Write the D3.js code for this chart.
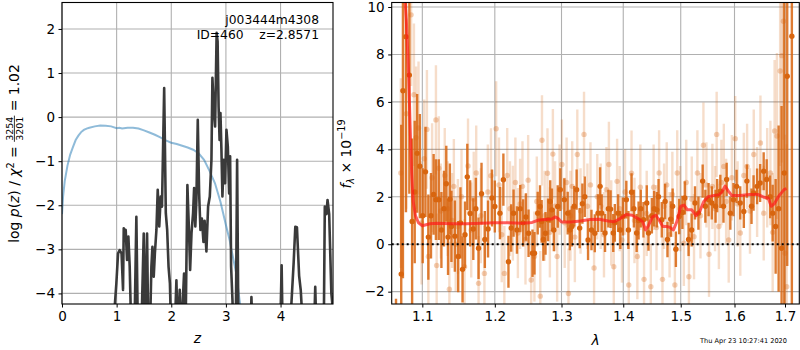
<!DOCTYPE html>
<html><head><meta charset="utf-8">
<script src="https://cdn.jsdelivr.net/npm/d3@7"></script>
<style>
body{margin:0;background:#fff;}
svg text{font-family:"DejaVu Sans",sans-serif;white-space:pre;}
</style></head><body>
<svg id="c" width="800" height="350"></svg>
<script>
// ---------------- data ----------------
const zTicks = [0,1,2,3,4];
const logpTicks = [-4,-3,-2,-1,0,1,2];
const lamTicks = [1.1,1.2,1.3,1.4,1.5,1.6,1.7];
const fluxTicks = [-2,0,2,4,6,8,10];

// chi2 curve (blue)
const chiZ = [0,0.02,0.05,0.10,0.15,0.20,0.25,0.30,0.35,0.40,0.45,0.50,0.60,0.70,0.80,0.90,1.00,1.05,1.10,1.20,1.30,1.40,1.50,1.60,1.70,1.80,1.90,2.00,2.10,2.20,2.30,2.40,2.50,2.60,2.70,2.80,2.90,3.00,3.07,3.10,3.19,3.25,3.30];
const chiV = [-2.2,-1.8,-1.45,-1.1,-0.85,-0.68,-0.52,-0.42,-0.34,-0.29,-0.26,-0.24,-0.21,-0.19,-0.195,-0.21,-0.25,-0.24,-0.26,-0.24,-0.24,-0.26,-0.30,-0.35,-0.40,-0.46,-0.53,-0.58,-0.61,-0.65,-0.69,-0.74,-0.82,-0.97,-1.22,-1.5,-1.92,-2.45,-2.8,-3.0,-3.55,-4.15,-4.6];

// log p(z) (dark)
const pzZ = [0.00,0.94,0.965,0.995,1.026,1.056,1.09,1.117,1.13,1.15,1.166,1.19,1.215,1.239,1.27,1.30,1.33,1.361,1.39,1.45,1.496,1.52,1.557,1.58,1.62,1.636,1.655,1.679,1.70,1.728,1.752,1.78,1.807,1.83,1.87,1.90,1.925,1.95,1.975,2.00,2.06,2.094,2.12,2.155,2.18,2.234,2.26,2.295,2.326,2.345,2.37,2.399,2.418,2.44,2.46,2.485,2.51,2.534,2.56,2.589,2.61,2.643,2.674,2.705,2.735,2.753,2.778,2.802,2.83,2.848,2.866,2.884,2.90,2.918,2.936,2.96,2.985,3.01,3.035,3.059,3.077,3.095,3.12,3.14,3.18,3.205,3.23,3.30,3.45,3.467,3.49,3.98,4.00,4.02,4.04,4.16,4.20,4.24,4.27,4.30,4.34,4.37,4.40,4.43,4.61,4.635,4.66,4.79,4.81,4.84,4.86,4.89,4.93,4.96];
const pzV = [-8,-8,-4.3,-3.77,-3.09,-3.02,-3.09,-3.92,-2.52,-2.6,-2.56,-3.24,-2.71,-3.39,-5,-5,-4.6,-2.26,-5,-5,-2.64,-5,-2.64,-5,-4.3,-3.39,-2.94,-3.62,-3.09,-2.56,-1.65,-2.48,-1.80,-2.03,0.66,-2.18,-2.56,-3.39,-3.77,-5,-5,-3.70,-5,-3.92,-5,-3.55,-5,-1.54,-2.64,-3.47,-2.64,-2.18,-1.61,-2.48,-1.88,-0.06,-1.73,-2.56,-2.3,-2.83,-2.35,-3.05,-2.03,-1.8,-0.97,0.89,0.17,-0.21,1.91,1.72,0.24,-0.52,0.09,-0.74,-1.8,-0.97,-1.5,-0.29,-0.67,-1.73,-0.89,-3.39,-4.15,-5,-5,-0.97,-5,-6,-5,-4.08,-5,-5,-4.5,-3.36,-5,-5,-4.2,-3.3,-2.49,-2.5,-3.6,-3.93,-4.6,-5,-5,-3.85,-5,-5,-2.03,-2.2,-1.88,-2.2,-4.0,-4.4];

// spectrum: dark points
const darkLam = [1.0658,1.0725,1.0747,1.0786,1.0830,1.0866,1.0900,1.0932,1.0967,1.1005,1.1042,1.1080,1.1115,1.1150,1.1181,1.1219,1.1255,1.1290,1.1321,1.1345,1.1370,1.1391,1.1438,1.1484,1.1515,1.1544,1.1578,1.1610,1.1650,1.1694,1.1730,1.1768,1.1810,1.1857,1.1903,1.1959,1.2000,1.2074,1.2124,1.2198,1.2238,1.2273,1.2323,1.2372,1.2415,1.2456,1.2496,1.2555,1.2585,1.2634,1.2669,1.2694,1.2720,1.2753,1.2792,1.2825,1.2851,1.2881,1.2941,1.2981,1.3044,1.3097,1.3130,1.3162,1.3200,1.3238,1.3287,1.3330,1.3368,1.3421,1.3476,1.3530,1.3583,1.3616,1.3643,1.3697,1.3752,1.3789,1.3833,1.3859,1.3914,1.3951,1.3995,1.4052,1.4087,1.4140,1.4180,1.4227,1.4260,1.4297,1.4344,1.4401,1.4431,1.4489,1.4529,1.4576,1.4606,1.4663,1.4721,1.4763,1.4821,1.4855,1.4913,1.4972,1.5030,1.5074,1.5142,1.5198,1.5259,1.5322,1.5400,1.5450,1.5510,1.5570,1.5640,1.5670,1.5730,1.5790,1.5850,1.5920,1.5980,1.6040,1.6110,1.6180,1.6240,1.6330,1.6370,1.6440,1.6500,1.6570,1.6630,1.6700,1.6750,1.6810,1.6870,1.6930,1.6985,1.7045,1.7140];
const darkFlux = [-4.0,-1.26,6.47,8.75,7.13,0.96,2.2,3.83,3.29,1.2,3.05,0.30,1.2,2.1,1.88,1.88,0.6,1.5,2.55,0.30,1.9,0.75,0.34,-0.52,0.9,-1.06,0.4,2.84,1.3,0.64,1.5,-0.17,2.13,0.20,0.64,1.95,1.59,1.31,2.72,-0.74,0.68,1.31,0.60,1.50,0.9,1.15,0.46,-0.38,-0.38,1.31,1.59,0.96,0.2,0.46,1.03,1.8,1.45,0.60,1.59,2.30,1.88,1.31,0.6,0.75,1.6,2.30,0.68,1.71,2.00,0.18,0.60,0.46,1.31,2.44,1.31,0.47,1.50,1.48,0.47,0.90,1.31,0.60,1.17,1.88,0.60,2.19,1.50,0.47,1.0,1.50,1.03,1.74,0.47,1.20,1.50,1.45,2.00,1.03,1.80,0.20,1.06,1.60,-0.21,1.17,1.34,1.95,0.20,0.60,1.74,1.31,2.66,1.60,1.88,1.74,1.60,2.05,2.23,1.60,2.73,1.31,1.88,2.44,1.74,1.38,2.66,1.60,2.16,2.44,2.58,3.08,2.73,2.00,1.31,0.75,1.5,-0.17,3.0,7.08,8.77];
const darkErr = [1.7,6.3,7.9,7.4,5.0,3.5,3.0,2.5,2.2,2.0,1.9,1.8,1.8,1.7,1.7,1.7,1.6,1.6,1.6,1.6,1.5,1.5,1.5,1.5,1.5,1.4,1.4,1.4,1.4,1.3,1.3,1.3,1.3,1.2,1.2,1.2,1.1,1.1,1.1,1.1,1.0,1.0,1.0,1.0,1.0,1.0,1.0,1.0,0.9,0.9,0.9,0.9,0.9,0.9,0.9,0.9,0.9,0.9,0.9,0.9,0.9,0.9,0.85,0.85,0.85,0.85,0.85,0.85,0.85,0.85,0.85,0.8,0.8,0.8,0.8,0.8,0.8,0.8,0.8,0.8,0.8,0.8,0.8,0.8,0.8,0.8,0.8,0.8,0.8,0.8,0.75,0.75,0.75,0.75,0.75,0.75,0.75,0.75,0.75,0.75,0.75,0.75,0.75,0.75,0.7,0.7,0.7,0.7,0.7,0.7,0.7,0.7,0.7,0.7,0.7,0.7,0.7,0.7,0.7,0.7,0.7,0.7,0.7,0.7,0.7,0.75,0.75,0.75,0.8,0.8,0.85,0.9,1.2,2.0,3.5,6.0,8.0,8.0,12];

// spectrum: light points
const lightLam = [1.0720,1.0790,1.0853,1.0890,1.0918,1.0950,1.0990,1.1025,1.1061,1.1080,1.1130,1.1181,1.1191,1.1220,1.1247,1.1300,1.1340,1.1363,1.1400,1.1424,1.1450,1.1480,1.1530,1.1572,1.1620,1.1665,1.1700,1.1735,1.1768,1.1800,1.1851,1.1900,1.1945,1.2019,1.2060,1.2100,1.2138,1.2180,1.2220,1.2263,1.2300,1.2337,1.2370,1.2405,1.2450,1.2490,1.2535,1.2584,1.2620,1.2673,1.2699,1.2740,1.2783,1.2820,1.2866,1.2900,1.2932,1.2970,1.3006,1.3050,1.3080,1.3109,1.3140,1.3168,1.3210,1.3249,1.3300,1.3356,1.3411,1.3460,1.3518,1.3570,1.3627,1.3680,1.3720,1.3761,1.3800,1.3842,1.3897,1.3940,1.3978,1.4030,1.4093,1.4140,1.4190,1.4239,1.4290,1.4354,1.4400,1.4471,1.4520,1.4570,1.4616,1.4675,1.4703,1.4750,1.4800,1.4850,1.4895,1.4937,1.4990,1.5056,1.5100,1.5148,1.5200,1.5241,1.5303,1.5360,1.5414,1.5470,1.5518,1.5581,1.5630,1.5661,1.5703,1.5750,1.5796,1.5840,1.5889,1.5950,1.6014,1.6060,1.6112,1.6180,1.6244,1.6300,1.6374,1.6440,1.6506,1.6571,1.6640,1.6704,1.6750,1.6789,1.6836,1.6901,1.6935,1.6967,1.7000,1.7035];
const lightFlux = [3.0,5.5,9.67,6.3,4.49,4.9,0.9,3.6,4.84,-0.52,2.8,5.24,-0.90,3.2,1.4,2.9,1.5,-1.90,1.0,2.44,0.0,0.75,2.0,-0.95,3.3,0.60,1.9,3.00,-1.65,1.2,-1.23,2.2,2.89,4.87,2.5,0.4,-1.23,2.9,1.5,1.31,2.6,0.47,1.7,2.44,0.2,2.7,-1.51,-0.52,1.8,-2.19,4.38,1.2,2.99,0.5,3.80,1.6,-0.52,2.3,3.36,0.9,2.6,-2.08,1.2,2.44,0.3,3.78,1.4,4.63,1.60,2.5,-1.00,2.0,1.60,0.4,2.3,3.36,0.9,-0.95,2.65,1.5,0.18,2.2,-1.72,2.99,1.0,-0.52,2.4,-1.48,1.3,-1.79,2.4,0.7,3.00,-1.48,1.60,2.5,0.4,2.1,-1.72,3.00,1.5,0.04,2.6,-1.37,1.9,0.32,3.00,1.2,4.17,2.5,-0.42,2.44,1.5,4.63,0.75,2.6,3.28,1.8,0.18,2.8,4.45,1.7,0.47,2.9,3.28,1.4,3.78,2.2,4.27,1.31,2.8,3.00,0.5,4.77,4.56,7.30,7.95,9.40,-0.38,-1.79];
const lightErr = [4.0,4.0,3.0,3.0,3.0,2.8,2.6,2.5,2.5,2.5,2.3,2.3,2.2,2.2,2.0,2.0,2.0,2.0,2.0,2.0,2.0,2.0,2.0,2.0,2.0,2.0,2.0,2.0,2.0,2.0,2.0,2.0,2.0,2.0,2.0,2.0,2.0,2.0,2.0,2.0,1.9,1.9,1.9,1.9,1.9,1.9,1.9,1.9,1.9,1.9,1.9,1.9,1.9,1.9,1.9,1.9,1.9,1.9,1.9,1.9,1.9,1.9,1.9,1.9,1.9,1.9,1.8,1.8,1.8,1.8,1.8,1.8,1.8,1.8,1.8,1.8,1.8,1.8,1.8,1.8,1.8,1.8,1.8,1.8,1.8,1.8,1.8,1.8,1.8,1.8,1.8,1.8,1.8,1.8,1.8,1.8,1.8,1.8,1.8,1.8,1.8,1.8,1.8,1.8,1.8,1.8,1.8,1.8,1.8,1.8,1.8,1.8,1.8,1.8,1.8,1.8,1.8,1.8,1.8,1.8,1.8,1.8,1.8,1.8,1.8,1.8,1.9,1.9,2.0,2.0,2.1,2.2,2.5,3.0,3.5,4.0,4.5,5.0,5.0,6.0];

// model (red)
const modelLam = [1.0760,1.0790,1.0820,1.0840,1.0860,1.0880,1.0910,1.0950,1.1000,1.1050,1.1100,1.1200,1.1400,1.1600,1.1800,1.2000,1.2200,1.2400,1.2550,1.2650,1.2750,1.2850,1.2900,1.2950,1.3000,1.3150,1.3300,1.3450,1.3600,1.3750,1.3850,1.3950,1.4050,1.4150,1.4250,1.4330,1.4380,1.4430,1.4500,1.4560,1.4620,1.4680,1.4740,1.4800,1.4870,1.4930,1.5000,1.5060,1.5120,1.5200,1.5280,1.5350,1.5420,1.5500,1.5600,1.5700,1.5760,1.5820,1.5880,1.5950,1.6100,1.6300,1.6450,1.6580,1.6660,1.6720,1.6780,1.6880,1.6980,1.7030];
const modelFlux = [11,9.5,7.2,5.0,3.0,1.8,1.2,0.9,0.78,0.82,0.86,0.88,0.86,0.86,0.88,0.90,0.90,0.88,0.92,1.02,1.04,1.06,1.15,1.08,0.94,0.94,0.98,1.04,1.05,0.98,0.95,1.08,1.25,1.22,1.08,0.95,0.6,0.78,1.15,1.22,1.0,0.75,0.75,0.72,0.6,0.95,1.6,1.65,1.45,1.45,1.2,1.4,1.8,2.0,2.05,2.08,2.2,2.45,2.25,2.05,2.05,2.1,2.1,1.98,1.95,1.6,1.7,2.05,2.3,2.35];

const labelTitle = "j003444m4308";
const labelSub = "ID=460    z=2.8571";
const stamp = "Thu Apr 23 10:27:41 2020";

// ---------------- drawing ----------------
const svg = d3.select("#c");
const TFS = 13.5, LFS = 13.9;
const gridCol = "#b0b0b0";
const orange = "#d8650f";

const L = {x0:62, x1:333, y0:2.5, y1:304};
const R = {x0:391.7, x1:799.3, y0:2.5, y1:304};

const xz = d3.scaleLinear().domain([0,4.96]).range([L.x0,L.x1]);
const yp = d3.scaleLinear().domain([-4.24,2.6]).range([L.y1,L.y0]);
const xl = d3.scaleLog().domain([1.0603,1.7294]).range([R.x0,R.x1]);
const yf = d3.scaleLinear().domain([-2.52,10.19]).range([R.y1,R.y0]);

const defs = svg.append("defs");
[["clipL",L],["clipR",R]].forEach(([id,b])=>{
  defs.append("clipPath").attr("id",id).append("rect")
    .attr("x",b.x0).attr("y",b.y0).attr("width",b.x1-b.x0).attr("height",b.y1-b.y0);
});

function grid(b, xs, xv, ys, yv){
  const g = svg.append("g");
  g.selectAll("line.gx").data(xv).join("line")
    .attr("x1",d=>xs(d)).attr("x2",d=>xs(d)).attr("y1",b.y0).attr("y2",b.y1)
    .attr("stroke",gridCol).attr("stroke-width",1.1);
  g.selectAll("line.gy").data(yv).join("line")
    .attr("y1",d=>ys(d)).attr("y2",d=>ys(d)).attr("x1",b.x0).attr("x2",b.x1)
    .attr("stroke",gridCol).attr("stroke-width",1.1);
}
function axes(b, xs, xv, xf, ys, yv, yf_){
  const gx = svg.append("g").attr("transform",`translate(0,${b.y1})`)
    .call(d3.axisBottom(xs).tickValues(xv).tickFormat(xf).tickSize(3.5).tickPadding(3.5));
  const gy = svg.append("g").attr("transform",`translate(${b.x0},0)`)
    .call(d3.axisLeft(ys).tickValues(yv).tickFormat(yf_).tickSize(3.5).tickPadding(3.5));
  [gx,gy].forEach(g=>{
    g.select(".domain").remove();
    g.selectAll("line").attr("stroke","#000").attr("stroke-width",1);
    g.selectAll("text").attr("font-size",TFS).attr("fill","#000")
      .attr("font-family","DejaVu Sans");
  });
  svg.append("rect").attr("x",b.x0).attr("y",b.y0).attr("width",b.x1-b.x0)
    .attr("height",b.y1-b.y0).attr("fill","none").attr("stroke","#000").attr("stroke-width",1.1);
}

// ---- left panel ----
grid(L, xz, zTicks, yp, logpTicks);
const gL = svg.append("g").attr("clip-path","url(#clipL)");
gL.append("path").datum(d3.range(chiZ.length))
  .attr("d", d3.line().x(i=>xz(chiZ[i])).y(i=>yp(chiV[i])))
  .attr("fill","none").attr("stroke","#1f77b4").attr("stroke-opacity",0.5).attr("stroke-width",2);
gL.append("path").datum(d3.range(pzZ.length))
  .attr("d", d3.line().x(i=>xz(pzZ[i])).y(i=>yp(pzV[i])))
  .attr("fill","none").attr("stroke","#3a3a3a").attr("stroke-width",2.6).attr("stroke-linejoin","round");
axes(L, xz, zTicks, d3.format("d"), yp, logpTicks, d3.format("d"));

svg.append("text").attr("x",319).attr("y",24).attr("text-anchor","end")
  .attr("font-size",12.3).text(labelTitle);
svg.append("text").attr("x",319).attr("y",38.5).attr("text-anchor","end")
  .attr("font-size",12.3).text(labelSub);

svg.append("text").attr("x",(L.x0+L.x1)/2).attr("y",343).attr("text-anchor","middle")
  .attr("font-size",LFS).attr("font-style","italic").text("z");

// left y label with fraction
{
  const outer = svg.append("g").attr("transform","translate(19,153.5) rotate(-90)");
  const g = outer.append("g");
  const t1 = g.append("text").attr("font-size",LFS);
  t1.append("tspan").text("log ");
  t1.append("tspan").attr("font-style","italic").text("p");
  t1.append("tspan").text("(");
  t1.append("tspan").attr("font-style","italic").text("z");
  t1.append("tspan").text(") / ");
  t1.append("tspan").attr("font-style","italic").text("χ");
  t1.append("tspan").attr("font-size",9.7).attr("dy",-5.5).text("2");
  t1.append("tspan").attr("font-size",LFS).attr("dy",5.5).text(" = ");
  const w1 = t1.node().getComputedTextLength();
  const fn = g.append("text").attr("font-size",9.5).attr("x",w1+1).attr("y",-6.3).text("3254");
  const fw = fn.node().getComputedTextLength();
  g.append("text").attr("font-size",9.5).attr("x",w1+1).attr("y",4.2).text("3201");
  g.append("line").attr("x1",w1).attr("x2",w1+fw+2).attr("y1",-4.6).attr("y2",-4.6)
    .attr("stroke","#000").attr("stroke-width",0.8);
  const t3 = g.append("text").attr("font-size",LFS).attr("x",w1+fw+2).text(" = 1.02");
  const total = w1+fw+2+t3.node().getComputedTextLength();
  g.attr("transform",`translate(${-total/2},0)`);
}

// ---- right panel ----
grid(R, xl, lamTicks, yf, fluxTicks);
const gR = svg.append("g").attr("clip-path","url(#clipR)");
const li = d3.range(lightLam.length);
gR.append("g").selectAll("line").data(li).join("line")
  .attr("x1",i=>xl(lightLam[i])).attr("x2",i=>xl(lightLam[i]))
  .attr("y1",i=>yf(lightFlux[i]-lightErr[i])).attr("y2",i=>yf(lightFlux[i]+lightErr[i]))
  .attr("stroke",orange).attr("stroke-opacity",0.22).attr("stroke-width",2.4);
gR.append("g").selectAll("circle").data(li).join("circle")
  .attr("cx",i=>xl(lightLam[i])).attr("cy",i=>yf(lightFlux[i])).attr("r",2.7)
  .attr("fill",orange).attr("fill-opacity",0.3);
const di = d3.range(darkLam.length);
gR.append("g").selectAll("line").data(di).join("line")
  .attr("x1",i=>xl(darkLam[i])).attr("x2",i=>xl(darkLam[i]))
  .attr("y1",i=>yf(darkFlux[i]-darkErr[i])).attr("y2",i=>yf(darkFlux[i]+darkErr[i]))
  .attr("stroke",orange).attr("stroke-opacity",0.85).attr("stroke-width",2.4);
gR.append("g").selectAll("circle").data(di).join("circle")
  .attr("cx",i=>xl(darkLam[i])).attr("cy",i=>yf(darkFlux[i])).attr("r",2.7)
  .attr("fill",orange);
gR.append("path").datum(d3.range(modelLam.length))
  .attr("d", d3.line().x(i=>xl(modelLam[i])).y(i=>yf(modelFlux[i])))
  .attr("fill","none").attr("stroke","#ff1a1a").attr("stroke-opacity",0.7)
  .attr("stroke-width",3).attr("stroke-linejoin","round");
gR.append("line").attr("x1",R.x0).attr("x2",R.x1).attr("y1",yf(0)).attr("y2",yf(0))
  .attr("stroke","#000").attr("stroke-width",2).attr("stroke-dasharray","2,3");
axes(R, xl, lamTicks, d3.format(".1f"), yf, fluxTicks, d3.format("d"));

svg.append("text").attr("x",(R.x0+R.x1)/2).attr("y",345).attr("text-anchor","middle")
  .attr("font-size",LFS).attr("font-style","italic").text("λ");

{
  const g = svg.append("g").attr("transform","translate(350.5,154) rotate(-90)");
  const t = g.append("text").attr("font-size",LFS).attr("text-anchor","middle");
  t.append("tspan").attr("font-style","italic").text("f");
  t.append("tspan").attr("font-style","italic").attr("font-size",9.7).attr("dy",3).text("λ");
  t.append("tspan").attr("font-size",LFS).attr("dy",-3).text(" × 10");
  t.append("tspan").attr("font-size",9.7).attr("dy",-5.5).text("−19");
}

svg.append("text").attr("x",787).attr("y",343).attr("text-anchor","end")
  .attr("font-size",6.6).text(stamp);
</script>
</body></html>
